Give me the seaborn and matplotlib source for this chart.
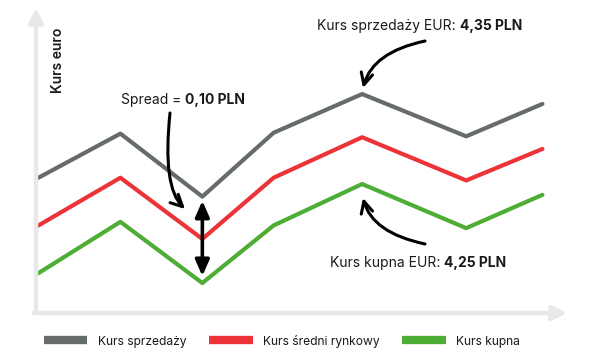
import matplotlib
matplotlib.use("Agg")
import matplotlib.pyplot as plt
import seaborn as sns
import pandas as pd
from matplotlib.lines import Line2D

# ---- data ----
okres = [0, 1, 2, 2.87, 3.95, 5.22, 6.15]
kurs_sprzedazy = [4.257, 4.306, 4.236, 4.307, 4.350, 4.303, 4.339]
kurs_sredni = [4.204, 4.257, 4.189, 4.257, 4.302, 4.254, 4.289]
kurs_kupna = [4.151, 4.208, 4.140, 4.204, 4.250, 4.201, 4.238]
serie = ["Kurs sprzedaży", "Kurs średni rynkowy", "Kurs kupna"]
kolory = ["#666b6b", "#ec3338", "#4ead35"]

df = pd.concat([
    pd.DataFrame({"okres": okres, "kurs": vals, "seria": name})
    for name, vals in zip(serie, [kurs_sprzedazy, kurs_sredni, kurs_kupna])
])

sns.set_theme(style="white")
FONT = ["Inter", "DejaVu Sans"]
plt.rcParams["font.family"] = FONT
TXT = "#1a1a1a"

fig = plt.figure(figsize=(6.0, 3.64), dpi=100)
ax = fig.add_axes([36 / 600, 1 - 313 / 364, (567 - 36) / 600, (313 - 8) / 364])

sns.lineplot(data=df, x="okres", y="kurs", hue="seria", palette=dict(zip(serie, kolory)),
             linewidth=3.0, legend=False, ax=ax, sort=False)

ax.set_xlim(-0.03, 6.45)
ax.set_ylim(4.1067, 4.4456)
for s in ax.spines.values():
    s.set_visible(False)
ax.set_xticks([])
ax.set_yticks([])
ax.set_xlabel("")
ax.set_ylabel("")

# axis arrows
axis_col = "#e8e8e8"
ax.annotate("", xy=(0, 1.0), xytext=(0, 0), xycoords="axes fraction",
            arrowprops=dict(arrowstyle="-|>,head_length=0.7,head_width=0.35",
                            color=axis_col, lw=3.2, shrinkA=0, shrinkB=0))
ax.annotate("", xy=(1.0, 0), xytext=(-0.004, 0), xycoords="axes fraction",
            arrowprops=dict(arrowstyle="-|>,head_length=0.7,head_width=0.35",
                            color=axis_col, lw=3.2, shrinkA=0, shrinkB=0))

fig.text(58 / 600, 1 - 60 / 364, "Kurs euro", rotation=90, ha="center", va="center",
         fontsize=10, fontweight="semibold", color=TXT)

# annotations with mixed weights
def label(x_px, y_px, normal, bold):
    t = fig.text(x_px / 600, 1 - y_px / 364, normal, ha="left", va="center",
                 fontsize=10, color=TXT)
    ax.annotate(bold, xy=(1, 0), xycoords=t, va="bottom", ha="left",
                fontsize=10, fontweight="bold", color=TXT)

label(121, 100, "Spread = ", "0,10 PLN")
label(317, 26, "Kurs sprzedaży EUR: ", "4,35 PLN")
label(330, 263, "Kurs kupna EUR: ", "4,25 PLN")

def fig_pt(x_px, y_px):
    return (x_px / 600, 1 - y_px / 364)

arr = dict(arrowstyle="->,head_length=0.7,head_width=0.35", color="black", lw=2.2,
           shrinkA=0, shrinkB=0)
ax.annotate("", xy=fig_pt(363, 88), xytext=fig_pt(425, 41), xycoords="figure fraction",
            arrowprops=dict(**arr, connectionstyle="angle3,angleA=192,angleB=75"))
ax.annotate("", xy=fig_pt(363, 198), xytext=fig_pt(425, 244), xycoords="figure fraction",
            arrowprops=dict(**arr, connectionstyle="angle3,angleA=168,angleB=-75"))
ax.annotate("", xy=fig_pt(185, 209), xytext=fig_pt(170, 113), xycoords="figure fraction",
            arrowprops=dict(**arr, connectionstyle="angle3,angleA=-96,angleB=136"))

# spread double arrow
ax.annotate("", xy=(okres[2], kurs_kupna[2]), xytext=(okres[2], kurs_sprzedazy[2]),
            arrowprops=dict(arrowstyle="<|-|>,head_length=0.8,head_width=0.35", color="black",
                            lw=2.6, shrinkA=3, shrinkB=5))

handles = [Line2D([0], [0], color=c, lw=6, solid_capstyle="butt") for c in kolory]
fig.legend(handles, serie, loc="center", bbox_to_anchor=(0.47, 1 - 341 / 364), ncol=3,
           frameon=False, fontsize=8.7, handlelength=3.6, handletextpad=0.85,
           columnspacing=1.9, labelcolor=TXT)

fig.savefig("out.png", dpi=100, facecolor="white")
